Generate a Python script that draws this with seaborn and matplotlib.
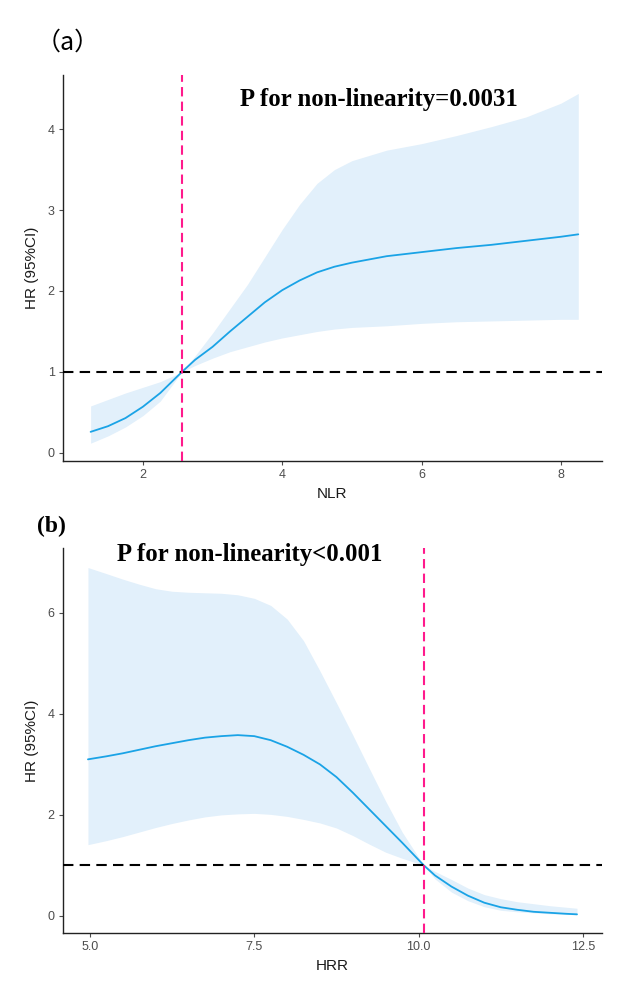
import numpy as np
import pandas as pd
import matplotlib
matplotlib.use("Agg")
import matplotlib.pyplot as plt
import seaborn as sns

# ── Données ────────────────────────────────────────────────
nlr = [1.25, 1.5, 1.75, 2.0, 2.25, 2.56, 2.75, 3.0, 3.25, 3.5, 3.75, 4.0,
       4.25, 4.5, 4.75, 5.0, 5.5, 6.0, 6.5, 7.0, 7.5, 8.0, 8.25]
nlr_hr = [0.26, 0.33, 0.43, 0.57, 0.74, 1.00, 1.15, 1.31, 1.50, 1.68, 1.86, 2.01,
          2.13, 2.23, 2.30, 2.35, 2.43, 2.48, 2.53, 2.57, 2.62, 2.67, 2.70]
nlr_upper = [0.58, 0.66, 0.74, 0.81, 0.88, 1.00, 1.20, 1.48, 1.78, 2.08, 2.42, 2.76,
             3.07, 3.33, 3.50, 3.61, 3.74, 3.82, 3.92, 4.03, 4.15, 4.32, 4.44]
nlr_lower = [0.12, 0.21, 0.32, 0.46, 0.64, 1.00, 1.08, 1.17, 1.25, 1.31, 1.37, 1.42,
             1.46, 1.50, 1.53, 1.55, 1.57, 1.60, 1.62, 1.63, 1.64, 1.65, 1.65]
nlr_cut = 2.56

hrr = [4.97, 5.25, 5.5, 5.75, 6.0, 6.25, 6.5, 6.75, 7.0, 7.25, 7.5, 7.75, 8.0,
       8.25, 8.5, 8.75, 9.0, 9.25, 9.5, 9.75, 10.08, 10.25, 10.5, 10.75, 11.0,
       11.25, 11.5, 11.75, 12.0, 12.25, 12.41]
hrr_hr = [3.10, 3.16, 3.22, 3.29, 3.36, 3.42, 3.48, 3.53, 3.56, 3.58, 3.56, 3.48, 3.35,
          3.19, 3.00, 2.75, 2.44, 2.11, 1.78, 1.45, 1.00, 0.80, 0.58, 0.40, 0.26,
          0.17, 0.12, 0.08, 0.06, 0.04, 0.03]
hrr_upper = [6.90, 6.78, 6.67, 6.57, 6.48, 6.43, 6.41, 6.40, 6.39, 6.36, 6.29, 6.15, 5.88,
             5.45, 4.85, 4.22, 3.58, 2.92, 2.27, 1.66, 1.00, 0.88, 0.72, 0.55, 0.42,
             0.34, 0.28, 0.24, 0.20, 0.17, 0.15]
hrr_lower = [1.41, 1.49, 1.57, 1.66, 1.75, 1.83, 1.90, 1.96, 2.00, 2.02, 2.03, 2.01, 1.97,
             1.91, 1.84, 1.74, 1.59, 1.42, 1.26, 1.14, 1.00, 0.73, 0.47, 0.30, 0.18,
             0.11, 0.08, 0.06, 0.04, 0.03, 0.02]
hrr_cut = 10.08

ref_hr = 1.0

LINE = "#1aa3e6"
FILL = "#e2f0fb"
PINK = "#ff1a8c"
TICK = "#4d4d4d"

sns.set_theme(style="ticks")
plt.rcParams["font.family"] = ["Liberation Sans", "DejaVu Sans"]

fig = plt.figure(figsize=(6.26, 9.85), dpi=100)
fig.patch.set_facecolor("white")

ax1 = fig.add_axes([0.1006, 0.532, 0.861, 0.392])
ax2 = fig.add_axes([0.1006, 0.0528, 0.861, 0.391])


def draw_panel(ax, x, hr, lo, up, cut, xlabel, xlim, ylim, xticks, yticks):
    df = pd.DataFrame({"x": x, "hr": hr, "lo": lo, "up": up})
    ax.fill_between(df["x"], df["lo"], df["up"], color=FILL, lw=0, zorder=1)
    sns.lineplot(data=df, x="x", y="hr", ax=ax, color=LINE, lw=1.3, zorder=3)
    ax.axhline(ref_hr, color="black", lw=1.5, dashes=(5, 3), zorder=4)
    ax.axvline(cut, color=PINK, lw=1.5, dashes=(4.5, 2.5), zorder=5)
    ax.set_xlim(xlim)
    ax.set_ylim(ylim)
    ax.set_xticks(xticks)
    ax.set_yticks(yticks)
    ax.set_xlabel(xlabel, fontsize=11, color="#1a1a1a", labelpad=4)
    ax.set_ylabel("HR (95%CI)", fontsize=11, color="#1a1a1a", labelpad=6)
    ax.tick_params(axis="both", labelsize=9, colors=TICK, length=3, width=0.8, pad=3)
    for s in ["top", "right"]:
        ax.spines[s].set_visible(False)
    for s in ["left", "bottom"]:
        ax.spines[s].set_color("#222222")
        ax.spines[s].set_linewidth(1.0)
    ax.set_facecolor("white")


draw_panel(ax1, nlr, nlr_hr, nlr_lower, nlr_upper, nlr_cut, "NLR",
           (0.853, 8.59), (-0.1, 4.67), [2, 4, 6, 8], [0, 1, 2, 3, 4])
ax1.set_xticklabels(["2", "4", "6", "8"])
draw_panel(ax2, hrr, hrr_hr, hrr_lower, hrr_upper, hrr_cut, "HRR",
           (4.59, 12.79), (-0.34, 7.29), [5.0, 7.5, 10.0, 12.5], [0, 2, 4, 6])
ax2.set_xticklabels(["5.0", "7.5", "10.0", "12.5"])

ax1.text(0.586, 0.935, "P for non-linearity=0.0031", transform=ax1.transAxes,
         ha="center", va="center", fontsize=17.8, fontweight="bold",
         family="Liberation Serif", color="black")
ax2.text(0.347, 0.982, "P for non-linearity<0.001", transform=ax2.transAxes,
         ha="center", va="center", fontsize=17.8, fontweight="bold",
         family="Liberation Serif", color="black")

fig.text(36 / 626, 1 - 43 / 985, "（a）", ha="left", va="center", fontsize=18,
         family=["Noto Sans CJK SC", "DejaVu Sans"], color="black")
fig.text(37 / 626, 1 - 526 / 985, "(b)", ha="left", va="center", fontsize=17,
         fontweight="bold", family="Liberation Serif", color="black")

fig.savefig("out.png", dpi=100, facecolor="white")
